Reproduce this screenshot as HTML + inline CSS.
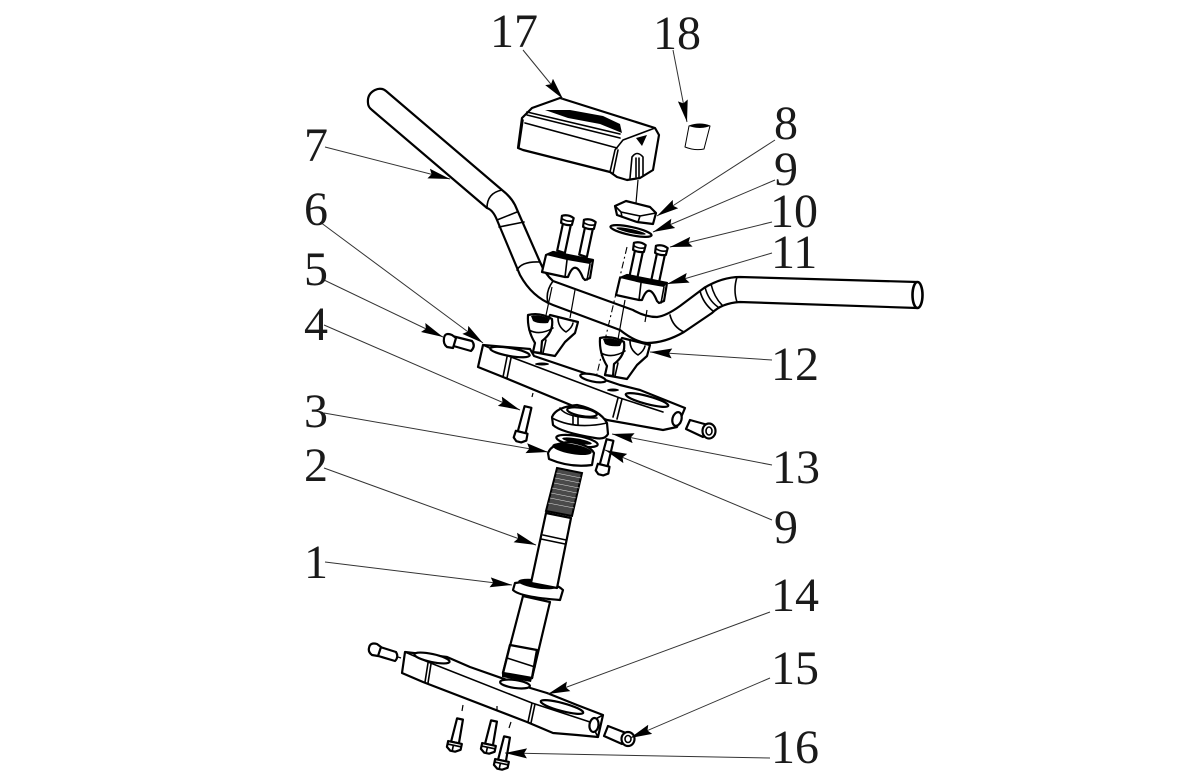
<!DOCTYPE html>
<html><head><meta charset="utf-8"><style>
html,body{margin:0;padding:0;background:#fff;width:1200px;height:780px;overflow:hidden}
svg{display:block}
text{font-family:"Liberation Serif",serif;font-size:48px;fill:#1a1a1a}
.p{fill:#fff;stroke:#000;stroke-width:2.2;stroke-linejoin:round;stroke-linecap:round}
.n{fill:none;stroke:#000;stroke-width:1.6;stroke-linecap:round;stroke-linejoin:round}
.t{fill:none;stroke:#000;stroke-width:1.2}
.d{fill:none;stroke:#000;stroke-width:1.1;stroke-dasharray:7 3 2 3}
.l{fill:none;stroke:#333;stroke-width:1;marker-end:url(#a)}
.k{fill:#000;stroke:none}
</style></head><body>
<svg width="1200" height="780" viewBox="0 0 1200 780" xmlns="http://www.w3.org/2000/svg">
<defs>
<marker id="a" markerUnits="userSpaceOnUse" markerWidth="24" markerHeight="12" refX="22" refY="5.5" orient="auto"><path d="M0 0.5L22 5.5L0 10.5L3 5.5Z" fill="#000"/></marker>
<g id="b"><path class="p" d="M-3.5 7L-4 36L4 37L4.5 7Z"/><path class="p" d="M-6 1Q0 -2 6 1L5.5 8Q0 10 -5.5 8Z"/><path class="n" d="M-5 4Q0 6 5.5 4"/></g>
<g id="c"><path class="p" d="M-3.5 0L-4 26L4 26L3.5 0Z"/><path class="p" d="M-6 26L6 26L6.5 33L2 36L-3 36L-6.5 33Z"/></g>
<g id="f"><path class="p" d="M-3 0L-4 24L4 24L3 0Z"/><path class="p" d="M-7 24L7 24L7 30L2 33L-3 33L-7 30Z"/><path class="n" d="M-6 27L6 27M-1 27V33"/></g>
<g id="r">
<path class="p" d="M22 -1L50 6L47 17L37 26L27 40L5 36L8 26Z"/>
<path class="n" d="M30 2Q30 11 38 16Q44 12 45 7"/>
<path class="p" d="M0 -1Q12 -4 24 3Q26 16 14 25L13 37L5 36L7 27Q-1 14 0 -1Z"/>
<path class="k" d="M3 0Q12 -2 22 3L20 7Q10 8 5 5Z"/>
<path class="n" d="M18 24L15 37M1 14Q12 20 25 12"/>
</g>
<g id="cl">
<path class="p" d="M542 272L546 255L553 252L593 260L590 278L585 280L583 278Q575 258 568 277L565 277Z"/>
<path class="k" d="M546 255L553 251L593 260L590 264L567 260Z"/>
<path class="n" d="M567 260L565 277M590 264L587 280"/>
</g>
</defs>

<!-- handlebar -->
<path class="p" d="M368 103Q367 94 375 90Q381 87 386 91L502 190Q511 197 515 205L540 262Q545 274 553 281L633 310Q645 317 657 317Q666 316 680 306L704 288Q722 277 740 277L917 282L917 308L740 302Q722 303 712 313L684 332Q665 343 647 343Q635 342 620 330L553 305Q532 297 520 275L497 220Q493 210 487 208L372 110Q368 107 368 103Z"/>
<path class="n" d="M502 190Q487 193 487 208M497 220L517 212M499 227L524 222M517 270Q522 261 540 262M553 281Q545 292 548 303M737 277Q733 290 737 302M670 315Q673 327 684 332M700 291Q703 303 713 311M705 287Q708 300 718 307M711 284Q714 297 722 305"/>
<ellipse class="p" cx="917.5" cy="295" rx="5" ry="13" style="stroke-width:2.6"/>

<path class="d" d="M627 247L596 378"/><path class="t" d="M552 287L545 320M575 290L570 318M625 300L617 345M647 310L645 322M638 180L636 203"/>

<!-- grip pad 17 -->
<path class="p" d="M518 148L522 118L532 108L560 98L655 128L659 135L653 170L640 178L627 180L617 177L610 172L523 150Z"/>
<path class="n" d="M525 123L617 148M527 115L620 138M527 112L620 134M615 150L623 140L655 128M610 172L615 150M519 147L523 120M613 174L618 150"/>
<path class="k" d="M545 110L570 110L603 116L620 124L622 133L600 124L568 118Z"/>
<path class="n" d="M630 178L632 157Q637 150 643 157L643 175M636 158V177M639 158V177"/><path class="k" d="M636 138L647 135L642 146Z"/>

<!-- nut and washer 8/9 -->
<path class="p" d="M615 206L617 215L637 222L653 224L656 213L650 207L626 201Z"/><path class="n" d="M615 206L621 212L640 216L656 213M621 212L622 217M640 216L638 222"/>
<ellipse class="p" cx="631" cy="231" rx="21" ry="4" transform="rotate(12 631 231)"/><ellipse class="k" cx="631" cy="231" rx="15" ry="2" transform="rotate(12 631 231)"/>

<use href="#b" transform="translate(568 216) rotate(11)"/><use href="#b" transform="translate(590 220) rotate(11)"/>
<use href="#b" transform="translate(640 243) rotate(11)"/><use href="#b" transform="translate(662 246) rotate(11)"/>

<use href="#cl"/><use href="#cl" transform="translate(74 23)"/>

<!-- top yoke -->
<path class="p" d="M483 345L530 349L534 356L620 385L640 390L685 408L677 427L663 430L607 420L503 377L478 367Z"/>
<path class="n" d="M507 357L503 377M511 358L507 378M618 398L613 417M622 399L617 419M483 345L478 367M483 345L503 354L620 398L663 412"/>
<ellipse class="p" cx="510" cy="352" rx="20" ry="4" transform="rotate(10 510 352)"/><ellipse class="p" cx="647" cy="400" rx="22" ry="4" transform="rotate(15 647 400)"/>
<ellipse class="k" cx="542" cy="364" rx="7" ry="1.5"/><ellipse class="p" cx="593" cy="378" rx="13" ry="3.5" transform="rotate(12 593 378)"/><ellipse class="k" cx="613" cy="390" rx="6" ry="1.5"/>
<ellipse class="p" cx="677" cy="419" rx="4.5" ry="7" transform="rotate(15 677 419)"/>

<use href="#r" transform="translate(528 316)"/><use href="#r" transform="translate(600 339)"/>

<!-- horizontal bolts -->
<path class="p" d="M452 336L472 341Q476 346 471 351L450 345Z"/><path class="p" d="M444 338Q445 332 452 335L456 338L453 348L447 347Q443 344 444 338Z"/>
<path class="p" d="M690 420L708 425L703 437L686 429Z"/><ellipse class="p" cx="709" cy="431" rx="6.5" ry="7.5"/><ellipse class="n" cx="709" cy="431" rx="3" ry="4"/>
<use href="#c" transform="translate(528 407) rotate(14)"/><path class="t" d="M533 393L532 397"/>

<!-- collar -->
<path class="p" d="M515 583L513 590Q520 597 560 600L563 590Q550 578 515 583Z"/>
<ellipse class="k" cx="538" cy="584" rx="20" ry="4.5" transform="rotate(8 538 584)"/>

<!-- stem -->
<path class="p" d="M546 513L571 518L557 588L531 583Z"/>
<path class="n" d="M543 535L566 540M541 539L565 544"/>
<path d="M557 468L582 473L572 516L546 511Z" fill="#4a4a4a" stroke="#000" stroke-width="2"/>
<path d="M556 473L581 478M555 478L580 483M554 483L579 488M552 488L577 493M551 493L576 498M550 498L575 503M548 503L574 508" stroke="#ddd" stroke-width=".6" fill="none"/>
<path class="p" d="M523 596L503 673L532 678L550 602Z"/>

<!-- ring 13 -->
<path class="p" d="M552 417Q556 407 577 405Q600 410 607 423L608 434Q605 440 595 438Q560 432 553 425Z"/>
<path class="n" d="M552 418Q575 430 607 423M560 408Q566 418 597 418"/>
<ellipse class="p" cx="582" cy="412" rx="15" ry="4" transform="rotate(10 582 412)"/><path class="n" d="M573 416V424M578 417V425"/>
<ellipse class="p" cx="577" cy="441" rx="21" ry="5" transform="rotate(10 577 441)"/><ellipse class="k" cx="577" cy="441" rx="15" ry="2.5" transform="rotate(10 577 441)"/>
<use href="#c" transform="translate(610 440) rotate(14)"/>
<path class="p" d="M548 453Q552 443 570 442Q590 445 594 453L592 465Q570 468 549 459Z"/><ellipse class="k" cx="572" cy="449" rx="20" ry="5" transform="rotate(10 572 449)"/>

<!-- lower yoke -->
<path class="p" d="M405 652L402 673L423 682L527 722L553 733L577 735L598 737L603 715L577 705L547 693L527 687L470 667L447 657Z"/>
<path class="n" d="M428 663L425 682M431 664L428 683M532 703L528 722M535 704L531 723M405 652L428 662L532 703L590 722L603 715M590 722L598 737"/>
<ellipse class="p" cx="432" cy="658" rx="18" ry="4" transform="rotate(12 432 658)"/><ellipse class="p" cx="562" cy="707" rx="22" ry="4" transform="rotate(15 562 707)"/>
<ellipse class="p" cx="594" cy="725" rx="4.5" ry="7" transform="rotate(8 594 725)"/>
<path class="p" d="M510 645L503 673L532 678L537 650Z" style="stroke-width:2.4"/>
<path class="n" d="M507 658L535 667"/>
<ellipse class="p" cx="515" cy="684" rx="15" ry="4" transform="rotate(8 515 684)"/>
<path class="k" d="M502 672L532 678L531 682L502 677Z"/>

<!-- lower bolts -->
<path class="p" d="M377 646L396 652Q399 657 395 661L375 655Z"/><path class="p" d="M369 648Q370 642 377 644L381 647L378 656L372 655Q368 652 369 648Z"/><path class="t" d="M398 657L401 658"/>
<path class="p" d="M608 726L626 733L622 744L604 736Z"/><ellipse class="p" cx="628" cy="739" rx="6.5" ry="7"/><ellipse class="n" cx="628" cy="739" rx="3" ry="3.5"/>
<use href="#f" transform="translate(460 719) rotate(12)"/><use href="#f" transform="translate(494 721) rotate(12)"/><use href="#f" transform="translate(507 737) rotate(12)"/>
<path class="t" d="M463 705L462 711M497 706L497 710M511 722L509 728"/>

<!-- cone 18 -->
<path class="p" style="stroke-width:1" d="M689 126Q700 122 710 126L704 149Q695 151 685 147Z"/><path class="k" d="M689 126Q700 122 710 126Q700 130 689 126Z"/>

<!-- leaders -->
<path class="l" d="M523 50L563 99"/>
<path class="l" d="M673 50L687 122"/>
<path class="l" d="M775 140L657 216"/>
<path class="l" d="M775 180L653 232"/>
<path class="l" d="M772 222L670 247"/>
<path class="l" d="M772 253L667 284"/>
<path class="l" d="M772 360L650 352"/>
<path class="l" d="M772 465L612 434"/>
<path class="l" d="M772 520L605 450"/>
<path class="l" d="M325 147L450 179"/>
<path class="l" d="M320 222L483 343"/>
<path class="l" d="M324 280L443 337"/>
<path class="l" d="M324 325L520 410"/>
<path class="l" d="M324 413L548 452"/>
<path class="l" d="M324 468L536 545"/>
<path class="l" d="M325 562L512 585"/>
<path class="l" d="M770 612L548 694"/>
<path class="l" d="M770 678L630 738"/>
<path class="l" d="M770 758L505 753"/>

<!-- labels -->
<text x="490" y="47">17</text><text x="653" y="49">18</text>
<text x="774" y="139">8</text><text x="774" y="185">9</text><text x="770" y="227">10</text><text x="771" y="268">11</text><text x="771" y="380">12</text><text x="772" y="483">13</text><text x="774" y="543">9</text><text x="771" y="611">14</text><text x="771" y="684">15</text><text x="771" y="763">16</text>
<text x="304" y="161">7</text><text x="304" y="225">6</text><text x="304" y="285">5</text><text x="304" y="340">4</text><text x="304" y="427">3</text><text x="304" y="481">2</text><text x="304" y="578">1</text>
</svg>
</body></html>
